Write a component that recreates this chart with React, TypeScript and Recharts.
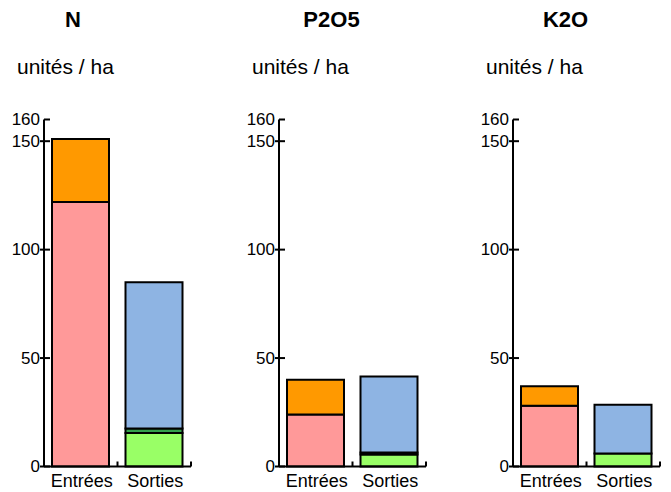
import { BarChart, Bar, XAxis, YAxis } from "recharts";

const panelTitles = ["N", "P2O5", "K2O"];
const unitLabel = "unités / ha";
const categories = ["Entrées", "Sorties"];
const yTicks = [0, 50, 100, 150, 160];

// entrées
const entreesRose = [122, 24, 28];
const entreesOrange = [29, 16, 9];
// sorties
const sortiesVert = [15.5, 5.5, 6];
const sortiesVertFonce = [2, 1, 0];
const sortiesBleu = [67.5, 35, 22.5];

const FONT = "'Liberation Sans', Arial, sans-serif";
const axisXs = [44, 278.5, 512.5];
const titleXs = [73, 331.5, 565.5];
const unitXs = [17, 252, 486];
const PLOT_W = 147;
const Y_AXIS_W = 40;

function YTick({ x, y, payload }: any) {
  const top = payload.value === 160;
  return (
    <g>
      <line x1={top ? x : x - 4} x2={x + 6} y1={y} y2={y} stroke="#000" strokeWidth={2} />
      <text
        x={x - 4}
        y={y}
        textAnchor="end"
        dominantBaseline="central"
        fontSize={17}
        fontFamily={FONT}
        fill="#000"
      >
        {payload.value}
      </text>
    </g>
  );
}

function XTick({ x, y, payload }: any) {
  const edge = x + PLOT_W / 4;
  return (
    <g>
      <line x1={edge} x2={edge} y1={y} y2={y - 5} stroke="#000" strokeWidth={2} />
      <text x={x + 1} y={y + 20} textAnchor="middle" fontSize={18} fontFamily={FONT} fill="#000">
        {payload.value}
      </text>
    </g>
  );
}

function Panel({ i }: { i: number }) {
  const data = [
    { cat: categories[0], rose: entreesRose[i], orange: entreesOrange[i] },
    {
      cat: categories[1],
      vert: sortiesVert[i],
      vertFonce: sortiesVertFonce[i],
      bleu: sortiesBleu[i],
    },
  ];
  const left = axisXs[i] - Y_AXIS_W;
  return (
    <div style={{ position: "absolute", left, top: 0 }}>
      <BarChart
        width={Y_AXIS_W + PLOT_W + 5}
        height={492}
        data={data}
        margin={{ top: 119.5, right: 5, bottom: 0, left: 0 }}
        barSize={57}
      >
        <XAxis
          dataKey="cat"
          height={25.5}
          tickSize={0}
          tickMargin={0}
          tick={<XTick />}
          axisLine={{ stroke: "#000", strokeWidth: 2 }}
          tickLine={false}
          interval={0}
        />
        <YAxis
          width={Y_AXIS_W}
          domain={[0, 160]}
          ticks={yTicks}
          interval={0}
          tickSize={0}
          tickMargin={0}
          tick={<YTick />}
          axisLine={{ stroke: "#000", strokeWidth: 2 }}
          tickLine={false}
        />
        <Bar dataKey="rose" stackId="s" fill="#FF9999" stroke="#000" strokeWidth={2} isAnimationActive={false} />
        <Bar dataKey="orange" stackId="s" fill="#FF9900" stroke="#000" strokeWidth={2} isAnimationActive={false} />
        <Bar dataKey="vert" stackId="s" fill="#99FF66" stroke="#000" strokeWidth={2} isAnimationActive={false} />
        <Bar dataKey="vertFonce" stackId="s" fill="#33A04C" stroke="#000" strokeWidth={2} isAnimationActive={false} />
        <Bar dataKey="bleu" stackId="s" fill="#8EB4E3" stroke="#000" strokeWidth={2} isAnimationActive={false} />
      </BarChart>
    </div>
  );
}

export default function App() {
  return (
    <div
      style={{
        position: "absolute",
        left: 0,
        top: 0,
        width: 671,
        height: 492,
        background: "#fff",
        overflow: "hidden",
      }}
    >
      {panelTitles.map((_, i) => (
        <Panel key={i} i={i} />
      ))}
      <svg width={671} height={492} style={{ position: "absolute", left: 0, top: 0, pointerEvents: "none" }}>
        {panelTitles.map((t, i) => (
          <g key={t}>
            <text
              x={titleXs[i]}
              y={27}
              textAnchor="middle"
              fontSize={22}
              fontWeight="bold"
              fontFamily={FONT}
              fill="#000"
            >
              {t}
            </text>
            <text x={unitXs[i]} y={74} fontSize={21} fontFamily={FONT} fill="#000">
              {unitLabel}
            </text>
          </g>
        ))}
      </svg>
    </div>
  );
}
